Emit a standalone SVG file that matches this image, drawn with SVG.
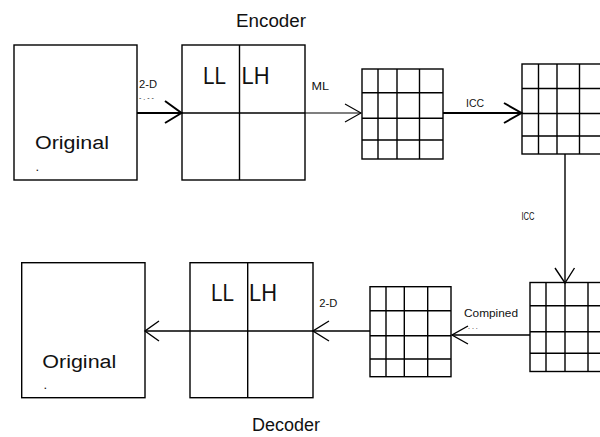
<svg xmlns="http://www.w3.org/2000/svg" width="600" height="437" viewBox="0 0 600 437">
<style>
  .box { fill: #fff; stroke: #000; stroke-width: 1.4; }
  .ln { stroke: #000; stroke-width: 1.4; fill: none; }
  .thin { stroke: #000; stroke-width: 1.1; fill: none; }
  .thick { stroke: #000; stroke-width: 2; fill: none; }
  text { font-family: "Liberation Sans", Arial, sans-serif; fill: #111; }
  .big { font-size: 18px; }
  .sub { font-size: 24px; }
  .sm { font-size: 10px; }
</style>
<rect width="600" height="437" fill="#fff"/>
<text class="big" x="236" y="27" textLength="70" lengthAdjust="spacingAndGlyphs">Encoder</text>
<text class="big" x="252" y="431" textLength="68" lengthAdjust="spacingAndGlyphs">Decoder</text>

<g id="original-enc">
  <rect class="box" x="14" y="45" width="123" height="135"/>
  <text class="big" x="35" y="148.5" textLength="74" lengthAdjust="spacingAndGlyphs">Original</text>
  <text x="35.5" y="171" font-size="13">.</text>
</g>
<g id="subband-enc">
  <rect class="box" x="182" y="45" width="123" height="135"/>
  <line class="ln" x1="239.5" y1="45" x2="239.5" y2="180"/>
  <line class="ln" x1="182" y1="113" x2="305" y2="113"/>
  <text class="sub" x="203" y="83.5" textLength="23" lengthAdjust="spacingAndGlyphs">LL</text>
  <text class="sub" x="241.5" y="83.5" textLength="28" lengthAdjust="spacingAndGlyphs">LH</text>
</g>
<g id="grid-ml">
  <rect class="box" x="362" y="69" width="81" height="90"/>
  <path class="ln" d="M378 69V159M397 69V159M419.5 69V159M362 92.7H443M362 118.3H443M362 140H443"/>
</g>
<g id="grid-icc">
  <rect class="box" x="522" y="64" width="100" height="90"/>
  <path class="ln" d="M538.5 64V154M557 64V154M579.5 64V154M522 88.5H600M522 113.5H600M522 136H600"/>
</g>
<g id="grid-combined">
  <rect class="box" x="530" y="282.5" width="100" height="89"/>
  <path class="ln" d="M546 282.5V371.5M565 282.5V371.5M588 282.5V371.5M530 305.7H600M530 331.7H600M530 353.3H600"/>
</g>
<g id="grid-dec">
  <rect class="box" x="370" y="286.7" width="81" height="90"/>
  <path class="ln" d="M386 286.7V376.7M404.3 286.7V376.7M427.7 286.7V376.7M370 310.7H451M370 335.7H451M370 359H451"/>
</g>
<g id="subband-dec">
  <rect class="box" x="190" y="262.7" width="123" height="135"/>
  <line class="ln" x1="247.7" y1="262.7" x2="247.7" y2="397.7"/>
  <line class="ln" x1="190" y1="331" x2="313" y2="331"/>
  <text class="sub" x="211" y="301" textLength="23" lengthAdjust="spacingAndGlyphs">LL</text>
  <text class="sub" x="249" y="301" textLength="28" lengthAdjust="spacingAndGlyphs">LH</text>
</g>
<g id="original-dec">
  <rect class="box" x="21.7" y="262.7" width="123.3" height="135"/>
  <text class="big" x="42.3" y="368.3" textLength="74" lengthAdjust="spacingAndGlyphs">Original</text>
  <text x="43.5" y="389" font-size="13">.</text>
</g>

<g id="connectors">
  <line class="thick" x1="137" y1="113" x2="181" y2="113"/>
  <polyline class="thick" points="165,101 181.5,113 165,123"/>
  <text class="sm" x="139" y="88" textLength="18" lengthAdjust="spacingAndGlyphs">2-D</text>
  <text x="139" y="100" font-size="7" fill="#444">- . - -</text>

  <line class="thin" x1="305" y1="113" x2="361" y2="113"/>
  <polyline class="thin" points="345,104 361,113 345,122"/>
  <text class="sm" x="311.5" y="89.5" textLength="17.5" lengthAdjust="spacingAndGlyphs">ML</text>

  <line class="thick" x1="443" y1="113" x2="521" y2="113"/>
  <polyline class="thick" points="504,103 521.5,113 504,123"/>
  <text class="sm" x="466" y="106.7" textLength="18" lengthAdjust="spacingAndGlyphs">ICC</text>

  <line class="ln" x1="565" y1="154" x2="565" y2="283"/>
  <polyline class="ln" points="555,268 565,283 574.5,268"/>
  <text class="sm" x="521.5" y="220" textLength="13" lengthAdjust="spacingAndGlyphs">ICC</text>

  <line class="ln" x1="530" y1="335" x2="452" y2="335"/>
  <polyline class="ln" points="468,326 452,335 468,344"/>
  <text x="464" y="317.3" font-size="11.5" textLength="54" lengthAdjust="spacingAndGlyphs">Compined</text>
  <text x="468" y="329" font-size="7" fill="#333">. .   .</text>

  <line class="ln" x1="370" y1="331" x2="313" y2="331"/>
  <polyline class="ln" points="329,321 313,331 329,341"/>
  <text class="sm" x="319.3" y="306.7" textLength="18" lengthAdjust="spacingAndGlyphs">2-D</text>

  <line class="ln" x1="190" y1="331" x2="145" y2="331"/>
  <polyline class="ln" points="159,321 145,331 159,341"/>
</g>
</svg>
